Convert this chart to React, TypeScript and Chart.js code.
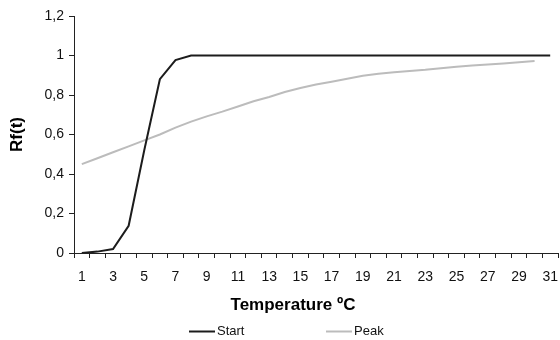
import React, { useEffect, useRef } from "react";
import { Chart, registerables } from "chart.js";

Chart.register(...registerables);

const categories: string[] = Array.from({ length: 31 }, (_, i) => String(i + 1));
const startValues: number[] = [
  0, 0.007, 0.02, 0.138, 0.52, 0.88, 0.977, 1, 1, 1, 1, 1, 1, 1, 1, 1,
  1, 1, 1, 1, 1, 1, 1, 1, 1, 1, 1, 1, 1, 1, 1,
];
const peakValues: number[] = [
  0.45, 0.48, 0.51, 0.54, 0.57, 0.6, 0.635, 0.665, 0.692, 0.716, 0.742,
  0.768, 0.79, 0.815, 0.835, 0.853, 0.867, 0.882, 0.897, 0.907, 0.915,
  0.922, 0.928, 0.936, 0.943, 0.949, 0.955, 0.96, 0.966, 0.972,
];
const seriesNames: string[] = ["Start", "Peak"];
const xTitle = "Temperature ºC";
const yTitle = "Rf(t)";

const FONT = '"Liberation Sans", Arial, sans-serif';

const extras = {
  id: "extras",
  afterDraw(chart: any) {
    const ctx = chart.ctx as CanvasRenderingContext2D;
    ctx.save();
    ctx.fillStyle = "#000";
    ctx.font = `bold 17px ${FONT}`;
    ctx.textAlign = "center";
    ctx.textBaseline = "middle";
    ctx.fillText(xTitle, 293, 305);
    ctx.font = `13px ${FONT}`;
    ctx.textAlign = "left";
    const xs = [189, 326];
    const y = 331.5;
    chart.data.datasets.forEach((ds: any, i: number) => {
      const x = xs[i];
      ctx.strokeStyle = ds.borderColor;
      ctx.lineWidth = 2;
      ctx.beginPath();
      ctx.moveTo(x, y);
      ctx.lineTo(x + 26, y);
      ctx.stroke();
      ctx.fillStyle = "#111";
      ctx.fillText(ds.label, x + 28, y);
    });
    ctx.restore();
  },
};

export default function App() {
  const ref = useRef<HTMLCanvasElement | null>(null);
  useEffect(() => {
    if (!ref.current) return;
    const chart = new Chart(ref.current, {
      type: "line",
      data: {
        labels: categories,
        datasets: [
          {
            label: seriesNames[0],
            data: startValues,
            borderColor: "#1c1c1c",
            borderWidth: 2,
            pointRadius: 0,
            tension: 0,
          },
          {
            label: seriesNames[1],
            data: peakValues,
            borderColor: "#bcbcbc",
            borderWidth: 2,
            pointRadius: 0,
            tension: 0,
          },
        ],
      },
      options: {
        animation: false,
        responsive: false,
        maintainAspectRatio: false,
        layout: { padding: { top: 16, right: 2, bottom: 0, left: 0 } },
        plugins: { legend: { display: false }, tooltip: { enabled: false } },
        scales: {
          x: {
            type: "category",
            offset: true,
            afterFit: (s: any) => {
              s.height = 87;
              s.paddingLeft = 0;
              s.paddingRight = 0;
            },
            grid: {
              offset: true,
              drawOnChartArea: false,
              drawTicks: true,
              tickLength: 5,
              color: "#222",
            },
            border: { display: true, color: "#222", width: 1 },
            ticks: {
              autoSkip: false,
              maxRotation: 0,
              minRotation: 0,
              padding: 11,
              color: "#111",
              font: { family: FONT, size: 14 },
              callback: (_v: any, i: number) => (i % 2 === 0 ? categories[i] : ""),
            },
          },
          y: {
            min: 0,
            max: 1.2,
            afterFit: (s: any) => {
              s.width = 74;
            },
            grid: {
              drawOnChartArea: false,
              drawTicks: true,
              tickLength: 5,
              color: "#222",
            },
            border: { display: true, color: "#222", width: 1 },
            ticks: {
              stepSize: 0.2,
              padding: 5,
              color: "#111",
              font: { family: FONT, size: 14 },
              callback: (v: any) => String(Number(Number(v).toFixed(1))).replace(".", ","),
            },
            title: {
              display: true,
              text: yTitle,
              color: "#000",
              font: { family: FONT, size: 17, weight: "bold" },
              padding: { top: 7, bottom: 0 },
            },
          },
        },
      },
      plugins: [extras],
    });
    return () => chart.destroy();
  }, []);
  return (
    <div style={{ position: "fixed", left: 0, top: 0, width: 560, height: 340, background: "#fff" }}>
      <canvas ref={ref} width={560} height={340} style={{ width: 560, height: 340 }} />
    </div>
  );
}
